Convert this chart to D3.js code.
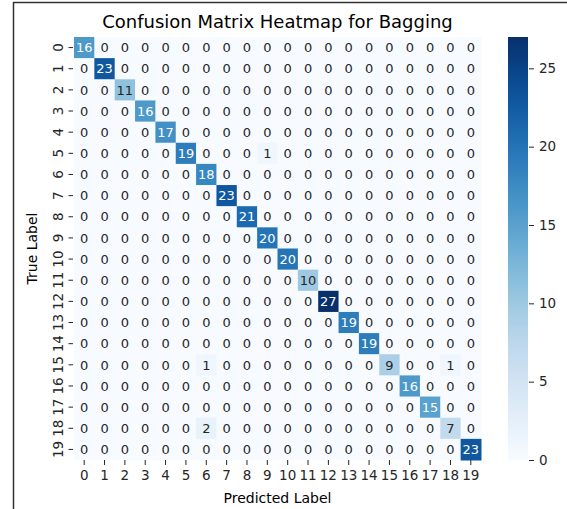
<!DOCTYPE html>
<html>
<head>
<meta charset="utf-8">
<script src="https://cdn.jsdelivr.net/npm/d3@7"></script>
<style>
  body { margin: 0; background: #fff; }
  text { font-family: "DejaVu Sans", sans-serif; }
</style>
</head>
<body>
<script>
    // class labels 0..19
    const labels = ["0","1","2","3","4","5","6","7","8","9","10","11","12","13","14","15","16","17","18","19"];
    // correct predictions (diagonal)
    const diagonal = [16, 23, 11, 16, 17, 19, 18, 23, 21, 20, 20, 10, 27, 19, 19, 9, 16, 15, 7, 23];
    // misclassifications: [true, predicted, count]
    const offDiagonal = [[5, 9, 1], [15, 6, 1], [15, 18, 1], [18, 6, 2]];
    const colorTicks = [0, 5, 10, 15, 20, 25];

    const width = 567, height = 509;

    // build cell list
    const cells = [];
    labels.forEach((r, i) => {
      labels.forEach((c, j) => {
        let v = i === j ? diagonal[i] : 0;
        offDiagonal.forEach(d => { if (d[0] === i && d[1] === j) v = d[2]; });
        cells.push({ row: r, col: c, value: v });
      });
    });

    const vmax = d3.max(cells, d => d.value);

    const svg = d3.select("body")
      .append("svg")
      .attr("width", width)
      .attr("height", height);

    // frame lines (top and left only are visible)
    svg.append("line").attr("x1", 13).attr("x2", width).attr("y1", 2.5).attr("y2", 2.5)
      .attr("stroke", "#333").attr("stroke-width", 1.5);
    svg.append("line").attr("x1", 13.5).attr("x2", 13.5).attr("y1", 2).attr("y2", height)
      .attr("stroke", "#333").attr("stroke-width", 1.5);

    const x = d3.scaleBand().domain(labels).range([74, 481]);
    const y = d3.scaleBand().domain(labels).range([37, 460]);
    const color = d3.scaleSequential(d3.interpolateBlues).domain([0, vmax]);

    svg.append("g").selectAll("rect")
      .data(cells)
      .enter()
      .append("rect")
      .attr("x", d => x(d.col))
      .attr("y", d => y(d.row))
      .attr("width", x.bandwidth() + 0.5)
      .attr("height", y.bandwidth() + 0.5)
      .attr("fill", d => color(d.value));

    // annotations, text colour follows cell luminance like seaborn
    function textColor(v) {
      const c = d3.rgb(color(v));
      const lin = ch => { ch /= 255; return ch <= 0.03928 ? ch / 12.92 : Math.pow((ch + 0.055) / 1.055, 2.4); };
      const lum = 0.2126 * lin(c.r) + 0.7152 * lin(c.g) + 0.0722 * lin(c.b);
      return lum > 0.408 ? "#262626" : "#ffffff";
    }

    svg.append("g").selectAll("text")
      .data(cells)
      .enter()
      .append("text")
      .attr("x", d => x(d.col) + x.bandwidth() / 2)
      .attr("y", d => y(d.row) + y.bandwidth() / 2)
      .attr("dy", "0.36em")
      .attr("text-anchor", "middle")
      .attr("font-size", 13)
      .attr("fill", d => textColor(d.value))
      .text(d => d.value);

    // axes
    const xAxis = svg.append("g")
      .attr("transform", `translate(0,460)`)
      .call(d3.axisBottom(x).tickSize(5).tickPadding(5));
    xAxis.select(".domain").remove();
    xAxis.selectAll("text").attr("font-size", 13.5).attr("fill", "#262626");
    xAxis.selectAll("line").attr("stroke", "#262626");

    const yAxis = svg.append("g")
      .attr("transform", `translate(73,0)`)
      .call(d3.axisLeft(y).tickSize(4.5).tickPadding(0));
    yAxis.select(".domain").remove();
    yAxis.selectAll("line").attr("stroke", "#262626");
    yAxis.selectAll("text")
      .attr("font-size", 13.5)
      .attr("fill", "#262626")
      .attr("text-anchor", "middle")
      .attr("dy", null)
      .attr("transform", "translate(-14,0) rotate(-90)")
      .attr("x", 0)
      .attr("y", 4);

    // titles
    svg.append("text")
      .attr("x", (74 + 481) / 2)
      .attr("y", 28)
      .attr("text-anchor", "middle")
      .attr("font-size", 18)
      .attr("fill", "#000")
      .text("Confusion Matrix Heatmap for Bagging");

    svg.append("text")
      .attr("x", (74 + 481) / 2)
      .attr("y", 503)
      .attr("text-anchor", "middle")
      .attr("font-size", 14)
      .attr("fill", "#000")
      .text("Predicted Label");

    svg.append("text")
      .attr("transform", `translate(37,${(37 + 460) / 2}) rotate(-90)`)
      .attr("text-anchor", "middle")
      .attr("font-size", 14)
      .attr("fill", "#000")
      .text("True Label");

    // colorbar
    const cb = d3.scaleLinear().domain([0, vmax]).range([460, 37]);
    const defs = svg.append("defs");
    const grad = defs.append("linearGradient")
      .attr("id", "cbgrad")
      .attr("x1", "0").attr("y1", "1").attr("x2", "0").attr("y2", "0");
    d3.range(0, 1.0001, 0.05).forEach(t => {
      grad.append("stop").attr("offset", t).attr("stop-color", color(t * vmax));
    });
    svg.append("rect")
      .attr("x", 508).attr("y", 37)
      .attr("width", 20).attr("height", 423)
      .attr("fill", "url(#cbgrad)");

    const cAxis = svg.append("g")
      .attr("transform", "translate(529,0)")
      .call(d3.axisRight(cb).tickValues(colorTicks).tickSize(5).tickPadding(5));
    cAxis.select(".domain").remove();
    cAxis.selectAll("line").attr("stroke", "#262626");
    cAxis.selectAll("text").attr("font-size", 13.5).attr("fill", "#262626");
</script>
</body>
</html>
